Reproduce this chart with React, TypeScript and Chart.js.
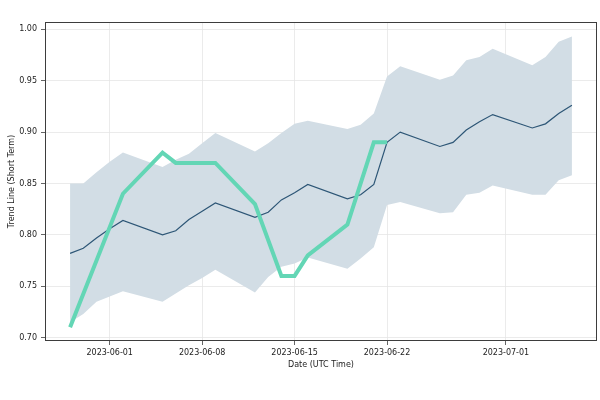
import React, { useEffect, useRef } from "react";
import { Chart, registerables } from "chart.js";

Chart.register(...registerables);

// Dates (trading days) for the forecast band and mean line
const bandDates = [
  "2023-05-29", "2023-05-30", "2023-05-31", "2023-06-01", "2023-06-02",
  "2023-06-05", "2023-06-06", "2023-06-07", "2023-06-08", "2023-06-09",
  "2023-06-12", "2023-06-13", "2023-06-14", "2023-06-15", "2023-06-16",
  "2023-06-19", "2023-06-20", "2023-06-21", "2023-06-22", "2023-06-23",
  "2023-06-26", "2023-06-27", "2023-06-28", "2023-06-29", "2023-06-30",
  "2023-07-03", "2023-07-04", "2023-07-05", "2023-07-06",
];
const meanValues = [
  0.782, 0.787, 0.797, 0.806, 0.814,
  0.800, 0.804, 0.815, 0.823, 0.831,
  0.817, 0.822, 0.834, 0.841, 0.849,
  0.835, 0.839, 0.849, 0.890, 0.900,
  0.886, 0.890, 0.902, 0.910, 0.917,
  0.904, 0.908, 0.918, 0.926,
];
const upperValues = [
  0.850, 0.850, 0.861, 0.871, 0.880,
  0.866, 0.873, 0.879, 0.889, 0.899,
  0.881, 0.889, 0.899, 0.908, 0.911,
  0.903, 0.907, 0.918, 0.954, 0.964,
  0.951, 0.955, 0.970, 0.973, 0.981,
  0.965, 0.973, 0.988, 0.993,
];
const lowerValues = [
  0.715, 0.723, 0.735, 0.740, 0.745,
  0.735, 0.743, 0.751, 0.758, 0.766,
  0.744, 0.759, 0.769, 0.772, 0.778,
  0.767, 0.777, 0.788, 0.829, 0.832,
  0.821, 0.822, 0.839, 0.841, 0.848,
  0.839, 0.839, 0.853, 0.858,
];

// Actual short-term trend line
const actualDates = [
  "2023-05-29", "2023-06-02", "2023-06-05", "2023-06-06", "2023-06-09",
  "2023-06-12", "2023-06-14", "2023-06-15", "2023-06-16", "2023-06-19",
  "2023-06-21", "2023-06-22",
];
const actualValues = [
  0.71, 0.84, 0.88, 0.87, 0.87,
  0.83, 0.76, 0.76, 0.78, 0.81,
  0.89, 0.89,
];

const xTickLabels = ["2023-06-01", "2023-06-08", "2023-06-15", "2023-06-22", "2023-07-01"];
const yTickValues = [0.7, 0.75, 0.8, 0.85, 0.9, 0.95, 1.0];

const ORIGIN = Date.parse("2023-06-01");
const dayOf = (s: string) => (Date.parse(s) - ORIGIN) / 86400000;
const pts = (dates: string[], vals: number[]) => dates.map((d, i) => ({ x: dayOf(d), y: vals[i] }));

const FONT = { family: "'DejaVu Sans', sans-serif", size: 8 };

const framePlugin = {
  id: "frame",
  afterDraw(chart: any) {
    const { ctx, chartArea } = chart;
    ctx.save();
    ctx.strokeStyle = "#3d3d3d";
    ctx.lineWidth = 1;
    ctx.strokeRect(chartArea.left + 0.5, chartArea.top + 0.5, chartArea.right - chartArea.left - 1, chartArea.bottom - chartArea.top - 1);
    ctx.restore();
  },
};

export default function App() {
  const ref = useRef<HTMLCanvasElement | null>(null);
  useEffect(() => {
    if (!ref.current) return;
    const chart = new Chart(ref.current, {
      type: "line",
      data: {
        datasets: [
          {
            label: "upper",
            data: pts(bandDates, upperValues),
            borderWidth: 0,
            pointRadius: 0,
            backgroundColor: "#d2dde5",
            fill: "+1",
            order: 3,
          },
          {
            label: "lower",
            data: pts(bandDates, lowerValues),
            borderWidth: 0,
            pointRadius: 0,
            backgroundColor: "#d2dde5",
            fill: false,
            order: 3,
          },
          {
            label: "mean",
            data: pts(bandDates, meanValues),
            borderColor: "#2d5676",
            borderWidth: 1.2,
            pointRadius: 0,
            fill: false,
            order: 2,
          },
          {
            label: "actual",
            data: pts(actualDates, actualValues),
            borderColor: "#63d6b5",
            borderWidth: 4,
            pointRadius: 0,
            fill: false,
            order: 1,
          },
        ],
      },
      options: {
        animation: false,
        responsive: false,
        maintainAspectRatio: false,
        layout: { padding: { left: 0, right: 3, top: 22, bottom: 0 } },
        plugins: { legend: { display: false }, tooltip: { enabled: false } },
        scales: {
          x: {
            type: "linear",
            min: -4.9,
            max: 36.9,
            afterBuildTicks: (s: any) => {
              s.ticks = xTickLabels.map((l) => ({ value: dayOf(l) }));
            },
            afterFit: (s: any) => {
              s.height = 59;
            },
            ticks: {
              font: FONT,
              color: "#222",
              padding: 3,
              maxRotation: 0,
              autoSkip: false,
              callback: (v: any) => {
                const i = xTickLabels.findIndex((l) => dayOf(l) === v);
                return i >= 0 ? xTickLabels[i] : "";
              },
            },
            grid: { color: "#e6e6e6", lineWidth: 0.8, tickColor: "#3d3d3d", tickLength: 4 },
            border: { display: false },
            title: {
              display: true,
              text: "Date (UTC Time)",
              font: FONT,
              color: "#222",
              padding: { top: 0, bottom: 30 },
            },
          },
          y: {
            type: "linear",
            min: 0.6967,
            max: 1.0071,
            afterBuildTicks: (s: any) => {
              s.ticks = yTickValues.map((v) => ({ value: v }));
            },
            afterFit: (s: any) => {
              s.width = 45;
            },
            ticks: {
              font: FONT,
              color: "#222",
              padding: 4,
              callback: (v: any) => Number(v).toFixed(2),
            },
            grid: { color: "#e6e6e6", lineWidth: 0.8, tickColor: "#3d3d3d", tickLength: 4 },
            border: { display: false },
            title: {
              display: true,
              text: "Trend Line (Short Term)",
              font: FONT,
              color: "#222",
              padding: { top: 7, bottom: 0 },
            },
          },
        },
      },
      plugins: [framePlugin],
    } as any);
    return () => chart.destroy();
  }, []);
  return (
    <div style={{ position: "fixed", left: 0, top: 0, width: 600, height: 400, background: "#fff" }}>
      <canvas ref={ref} width={600} height={400} style={{ width: 600, height: 400 }} />
    </div>
  );
}
